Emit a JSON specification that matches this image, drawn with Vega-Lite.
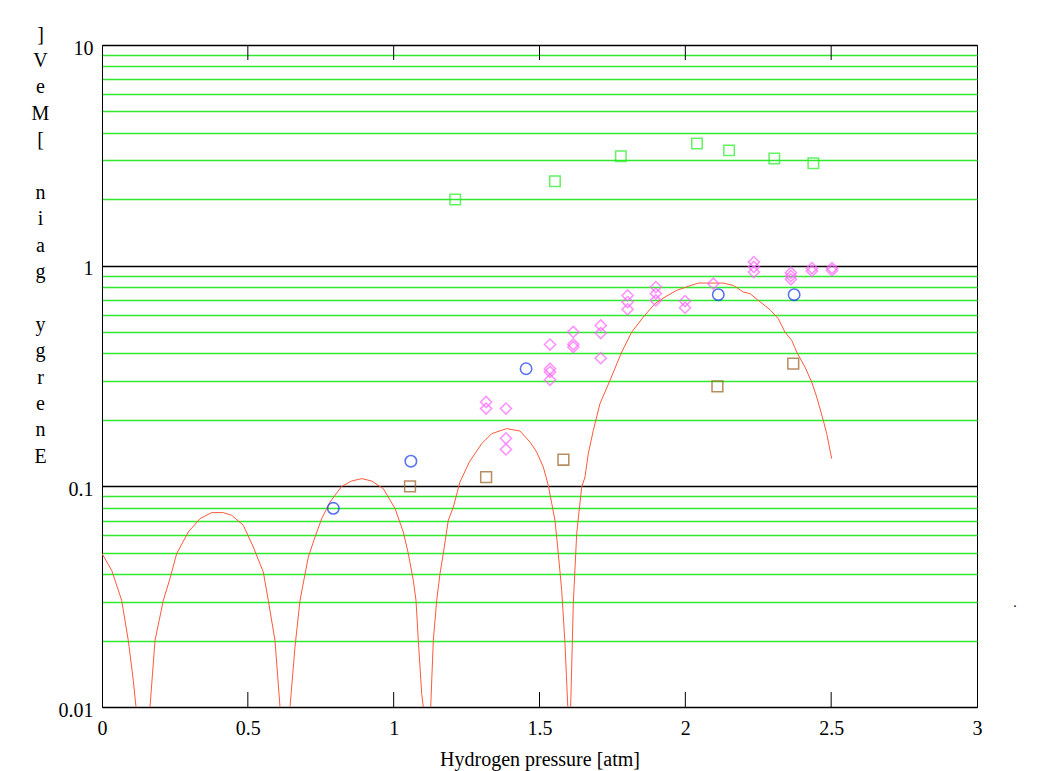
{
  "$schema": "https://vega.github.io/schema/vega-lite/v6.json",
  "width": 875,
  "height": 662,
  "autosize": {"type": "none"},
  "padding": {"left": 102, "top": 45, "right": 86, "bottom": 64},
  "background": "white",
  "config": {
    "font": "Liberation Serif",
    "view": {"stroke": "black", "strokeWidth": 1}
  },
  "datasets": {
    "curve": [
      {"x": 0.0, "y": 0.0496}, {"x": 0.0333, "y": 0.0416}, {"x": 0.0675, "y": 0.0304}, {"x": 0.0902, "y": 0.02}, {"x": 0.1073, "y": 0.0132}, {"x": 0.1166, "y": 0.01}, {"x": 0.14, "y": 0.001},
      {"x": 0.1646, "y": 0.01}, {"x": 0.1817, "y": 0.02}, {"x": 0.2102, "y": 0.0304}, {"x": 0.2331, "y": 0.0382}, {"x": 0.2561, "y": 0.0496}, {"x": 0.2959, "y": 0.0621}, {"x": 0.336, "y": 0.0714}, {"x": 0.3761, "y": 0.076}, {"x": 0.4159, "y": 0.076}, {"x": 0.4447, "y": 0.0739}, {"x": 0.4845, "y": 0.0666}, {"x": 0.5187, "y": 0.0531}, {"x": 0.553, "y": 0.0409}, {"x": 0.5702, "y": 0.0304}, {"x": 0.5931, "y": 0.02}, {"x": 0.6103, "y": 0.01}, {"x": 0.627, "y": 0.001},
      {"x": 0.6446, "y": 0.01}, {"x": 0.6617, "y": 0.0187}, {"x": 0.6789, "y": 0.0304}, {"x": 0.7073, "y": 0.0478}, {"x": 0.7303, "y": 0.0589}, {"x": 0.7533, "y": 0.0714}, {"x": 0.7817, "y": 0.0849}, {"x": 0.8218, "y": 0.1}, {"x": 0.8561, "y": 0.1057}, {"x": 0.8904, "y": 0.1084}, {"x": 0.9247, "y": 0.1057}, {"x": 0.9645, "y": 0.0976}, {"x": 1.0046, "y": 0.0793}, {"x": 1.033, "y": 0.0621}, {"x": 1.0502, "y": 0.0496}, {"x": 1.0673, "y": 0.0375}, {"x": 1.0766, "y": 0.0304}, {"x": 1.0845, "y": 0.02}, {"x": 1.0961, "y": 0.0115}, {"x": 1.1016, "y": 0.01}, {"x": 1.111, "y": 0.001},
      {"x": 1.127, "y": 0.01}, {"x": 1.1359, "y": 0.02}, {"x": 1.1475, "y": 0.0304}, {"x": 1.1589, "y": 0.0402}, {"x": 1.1702, "y": 0.0496}, {"x": 1.1873, "y": 0.0701}, {"x": 1.2045, "y": 0.0806}, {"x": 1.2274, "y": 0.1046}, {"x": 1.2593, "y": 0.1288}, {"x": 1.3018, "y": 0.1561}, {"x": 1.3361, "y": 0.1733}, {"x": 1.3875, "y": 0.1826}, {"x": 1.4331, "y": 0.1781}, {"x": 1.4674, "y": 0.1587}, {"x": 1.4904, "y": 0.143}, {"x": 1.513, "y": 0.1223}, {"x": 1.5302, "y": 0.101}, {"x": 1.5531, "y": 0.0701}, {"x": 1.5644, "y": 0.0496}, {"x": 1.5761, "y": 0.0338}, {"x": 1.5874, "y": 0.0194}, {"x": 1.5967, "y": 0.0102}, {"x": 1.603, "y": 0.001},
      {"x": 1.607, "y": 0.0102}, {"x": 1.6159, "y": 0.0294}, {"x": 1.6275, "y": 0.0611}, {"x": 1.6447, "y": 0.0993}, {"x": 1.656, "y": 0.1102}, {"x": 1.6673, "y": 0.1407}, {"x": 1.6845, "y": 0.1794}, {"x": 1.7074, "y": 0.237}, {"x": 1.7417, "y": 0.3022}, {"x": 1.7818, "y": 0.406}, {"x": 1.8161, "y": 0.5}, {"x": 1.8559, "y": 0.585}, {"x": 1.896, "y": 0.673}, {"x": 1.9303, "y": 0.721}, {"x": 1.9704, "y": 0.773}, {"x": 2.0102, "y": 0.806}, {"x": 2.0444, "y": 0.834}, {"x": 2.1302, "y": 0.834}, {"x": 2.1644, "y": 0.814}, {"x": 2.1988, "y": 0.759}, {"x": 2.2217, "y": 0.747}, {"x": 2.2502, "y": 0.696}, {"x": 2.2903, "y": 0.632}, {"x": 2.3187, "y": 0.575}, {"x": 2.3417, "y": 0.5}, {"x": 2.3647, "y": 0.459}, {"x": 2.3818, "y": 0.406}, {"x": 2.4103, "y": 0.347}, {"x": 2.4333, "y": 0.297}, {"x": 2.4504, "y": 0.254}, {"x": 2.473, "y": 0.199}, {"x": 2.4847, "y": 0.1733}, {"x": 2.5018, "y": 0.1335}
    ],
    "points": [
      {"x": 1.211, "y": 1.997, "s": "green"}, {"x": 1.553, "y": 2.41, "s": "green"}, {"x": 1.779, "y": 3.13, "s": "green"}, {"x": 2.04, "y": 3.58, "s": "green"}, {"x": 2.15, "y": 3.33, "s": "green"}, {"x": 2.305, "y": 3.06, "s": "green"}, {"x": 2.439, "y": 2.91, "s": "green"},
      {"x": 1.056, "y": 0.1, "s": "brown"}, {"x": 1.317, "y": 0.11, "s": "brown"}, {"x": 1.582, "y": 0.132, "s": "brown"}, {"x": 2.11, "y": 0.284, "s": "brown"}, {"x": 2.37, "y": 0.36, "s": "brown"},
      {"x": 1.317, "y": 0.241, "s": "magenta"}, {"x": 1.317, "y": 0.225, "s": "magenta"},
      {"x": 1.385, "y": 0.225, "s": "magenta"}, {"x": 1.385, "y": 0.165, "s": "magenta"}, {"x": 1.385, "y": 0.147, "s": "magenta"},
      {"x": 1.536, "y": 0.439, "s": "magenta"}, {"x": 1.536, "y": 0.341, "s": "magenta"}, {"x": 1.536, "y": 0.33, "s": "magenta"}, {"x": 1.536, "y": 0.304, "s": "magenta"},
      {"x": 1.616, "y": 0.501, "s": "magenta"}, {"x": 1.616, "y": 0.44, "s": "magenta"}, {"x": 1.616, "y": 0.428, "s": "magenta"},
      {"x": 1.71, "y": 0.536, "s": "magenta"}, {"x": 1.71, "y": 0.495, "s": "magenta"}, {"x": 1.71, "y": 0.381, "s": "magenta"},
      {"x": 1.802, "y": 0.733, "s": "magenta"}, {"x": 1.802, "y": 0.684, "s": "magenta"}, {"x": 1.802, "y": 0.634, "s": "magenta"},
      {"x": 1.899, "y": 0.8, "s": "magenta"}, {"x": 1.899, "y": 0.747, "s": "magenta"}, {"x": 1.899, "y": 0.696, "s": "magenta"},
      {"x": 1.999, "y": 0.691, "s": "magenta"}, {"x": 1.999, "y": 0.645, "s": "magenta"},
      {"x": 2.096, "y": 0.829, "s": "magenta"},
      {"x": 2.235, "y": 1.038, "s": "magenta"}, {"x": 2.235, "y": 0.986, "s": "magenta"}, {"x": 2.235, "y": 0.935, "s": "magenta"},
      {"x": 2.362, "y": 0.929, "s": "magenta"}, {"x": 2.362, "y": 0.897, "s": "magenta"}, {"x": 2.362, "y": 0.867, "s": "magenta"},
      {"x": 2.434, "y": 0.975, "s": "magenta"}, {"x": 2.434, "y": 0.945, "s": "magenta"},
      {"x": 2.503, "y": 0.975, "s": "magenta"}, {"x": 2.503, "y": 0.952, "s": "magenta"},
      {"x": 0.793, "y": 0.0795, "s": "blue"}, {"x": 1.059, "y": 0.13, "s": "blue"}, {"x": 1.454, "y": 0.341, "s": "blue"}, {"x": 2.113, "y": 0.739, "s": "blue"}, {"x": 2.373, "y": 0.739, "s": "blue"}
    ],
    "xticks": [{"x": 0.5}, {"x": 1}, {"x": 1.5}, {"x": 2}, {"x": 2.5}],
    "dot": [{"x": 3.13, "y": 0.0296, "t": "."}]
  },
  "layer": [
    {
      "data": {"name": "curve"},
      "mark": {"type": "line", "color": "#ff5a3a", "strokeWidth": 1, "clip": true},
      "encoding": {
        "x": {
          "field": "x", "type": "quantitative",
          "scale": {"domain": [0, 3], "nice": false, "zero": false},
          "axis": {
            "orient": "bottom",
            "values": [0, 0.5, 1, 1.5, 2, 2.5, 3],
            "grid": false,
            "domain": false,
            "ticks": false,
            "labelPadding": 11,
            "labelFont": "Liberation Serif",
            "labelFontSize": 20,
            "labelColor": "black",
            "labelFlush": false,
            "labelExpr": "datum.value == 0.5 ? '0.5' : datum.value == 1.5 ? '1.5' : datum.value == 2.5 ? '2.5' : format(datum.value, 'd')",
            "title": "Hydrogen pressure [atm]",
            "titleFont": "Liberation Serif",
            "titleFontSize": 20,
            "titleFontWeight": "normal",
            "titleColor": "black",
            "titlePadding": 11
          }
        },
        "y": {
          "field": "y", "type": "quantitative",
          "scale": {"type": "log", "domain": [0.01, 10], "nice": false},
          "axis": {
            "orient": "left",
            "values": [0.01, 0.02, 0.03, 0.04, 0.05, 0.06, 0.07, 0.08, 0.09, 0.1, 0.2, 0.3, 0.4, 0.5, 0.6, 0.7, 0.8, 0.9, 1, 2, 3, 4, 5, 6, 7, 8, 9, 10],
            "grid": true,
            "gridColor": {"condition": {"test": "datum.value == 0.01 || datum.value == 0.1 || datum.value == 1 || datum.value == 10", "value": "#000000"}, "value": "#2fe82f"},
            "gridWidth": 1.4,
            "gridOpacity": 1,
            "ticks": false,
            "domainColor": "black",
            "labelPadding": 9,
            "labelOffset": 3,
            "labelFont": "Liberation Serif",
            "labelFontSize": 20,
            "labelColor": "black",
            "labelExpr": "datum.value == 10 ? '10' : datum.value == 1 ? '1' : datum.value == 0.1 ? '0.1' : datum.value == 0.01 ? '0.01' : ''",
            "title": ["]", "V", "e", "M", "[", "\u200b", "n", "i", "a", "g", "\u200b", "y", "g", "r", "e", "n", "E"],
            "titleAngle": 0,
            "titleAlign": "center",
            "titleBaseline": "top",
            "titleX": -62,
            "titleY": -21,
            "titleFont": "Liberation Serif",
            "titleFontSize": 20,
            "titleFontWeight": "normal",
            "titleLineHeight": 26.4,
            "titleColor": "black"
          }
        }
      }
    },
    {
      "data": {"name": "xticks"},
      "mark": {"type": "rule", "color": "black", "strokeWidth": 1},
      "encoding": {
        "x": {"field": "x", "type": "quantitative", "axis": {"orient": "top", "values": [0, 0.5, 1, 1.5, 2, 2.5, 3], "labels": false, "title": null, "grid": false, "domain": false, "ticks": false}},
        "y": {"datum": 0.01, "type": "quantitative"},
        "y2": {"datum": 0.0117}
      }
    },
    {
      "data": {"name": "xticks"},
      "mark": {"type": "rule", "color": "black", "strokeWidth": 1},
      "encoding": {
        "x": {"field": "x", "type": "quantitative", "axis": {"orient": "top", "values": [0, 0.5, 1, 1.5, 2, 2.5, 3], "labels": false, "title": null, "grid": false, "domain": false, "ticks": false}},
        "y": {"datum": 10, "type": "quantitative"},
        "y2": {"datum": 8.55}
      }
    },
    {
      "data": {"name": "points"},
      "mark": {"type": "point", "filled": false, "clip": true},
      "encoding": {
        "x": {"field": "x", "type": "quantitative", "axis": {"orient": "top", "values": [0, 0.5, 1, 1.5, 2, 2.5, 3], "labels": false, "title": null, "grid": false, "domain": false, "ticks": false}},
        "y": {"field": "y", "type": "quantitative"},
        "shape": {"field": "s", "type": "nominal", "scale": {"domain": ["green", "brown", "magenta", "blue"], "range": ["square", "square", "diamond", "circle"]}, "legend": null},
        "stroke": {"field": "s", "type": "nominal", "scale": {"domain": ["green", "brown", "magenta", "blue"], "range": ["#22ee22", "#9a5f22", "#ff66ff", "#1438ee"]}, "legend": null},
        "size": {"field": "s", "type": "nominal", "scale": {"domain": ["green", "brown", "magenta", "blue"], "range": [110, 130, 110, 125]}, "legend": null},
        "strokeWidth": {"field": "s", "type": "nominal", "scale": {"domain": ["green", "brown", "magenta", "blue"], "range": [1.5, 1.6, 1, 2.4]}, "legend": null}
      }
    },
    {
      "data": {"name": "dot"},
      "mark": {"type": "text", "fontSize": 14, "color": "black", "clip": false},
      "encoding": {
        "x": {"field": "x", "type": "quantitative", "axis": {"orient": "top", "values": [0, 0.5, 1, 1.5, 2, 2.5, 3], "labels": false, "title": null, "grid": false, "domain": false, "ticks": false}},
        "y": {"field": "y", "type": "quantitative"},
        "text": {"field": "t"}
      }
    }
  ]
}
